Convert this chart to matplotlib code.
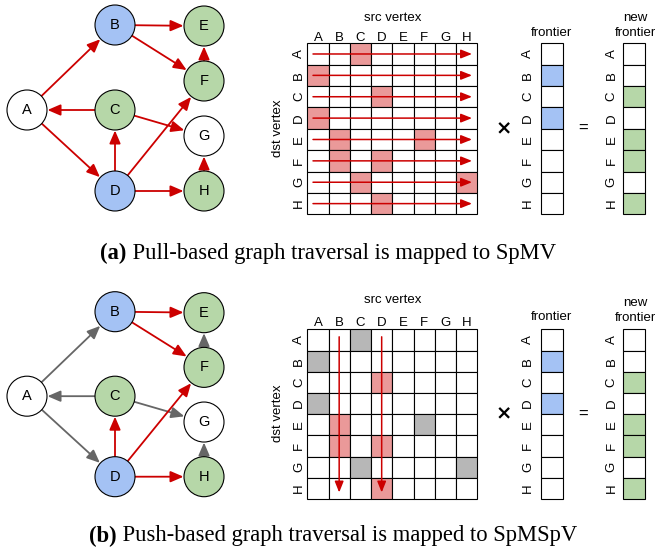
import matplotlib
matplotlib.use("Agg")
import matplotlib.pyplot as plt
from matplotlib.patches import Circle, Rectangle, FancyArrowPatch
import numpy as np

# ---------------- data ----------------
vertices = ["A", "B", "C", "D", "E", "F", "G", "H"]
edges = [("A", "B"), ("C", "A"), ("A", "D"), ("B", "E"), ("B", "F"), ("F", "E"),
         ("C", "G"), ("D", "C"), ("D", "F"), ("D", "H"), ("H", "G")]
frontier = ["B", "D"]
new_frontier = ["C", "E", "F", "H"]
captions = [("(a)", " Pull-based graph traversal is mapped to SpMV"),
            ("(b)", " Push-based graph traversal is mapped to SpMSpV")]

# ---------------- style ----------------
BLUE = "#a4c2f4"
GREEN = "#b6d7a8"
RED = "#cc0000"
GREY = "#666666"
PINK = "#ea9999"
LGREY = "#b7b7b7"
SANS = "Liberation Sans"
SERIF = "Liberation Serif"

fig = plt.figure(figsize=(6.55, 5.52), dpi=100)
ax = fig.add_axes([0, 0, 1, 1])
ax.set_xlim(0, 655)
ax.set_ylim(552, 0)
ax.axis("off")

# node layout (relative to panel top)
node_xy = {"A": (27, 110), "B": (115, 25), "C": (115, 110), "D": (115, 191),
           "E": (204, 26), "F": (204, 81), "G": (204, 136), "H": (204, 191)}
R = 20


def node_color(v):
    if v in frontier:
        return BLUE
    if v in new_frontier:
        return GREEN
    return "white"


def draw_graph(y0, yscale, push):
    pos = {v: (x, y0 + y * yscale) for v, (x, y) in node_xy.items()}
    for s, d in edges:
        (x1, y1), (x2, y2) = pos[s], pos[d]
        v = np.array([x2 - x1, y2 - y1], float)
        u = v / np.hypot(*v)
        p1 = (x1 + u[0] * R, y1 + u[1] * R)
        p2 = (x2 - u[0] * (R + 0.5), y2 - u[1] * (R + 0.5))
        col = RED if (not push or s in frontier) else GREY
        ax.add_patch(FancyArrowPatch(p1, p2, arrowstyle="-|>,head_length=0.65,head_width=0.28",
                                     mutation_scale=12, color=col, lw=1.3,
                                     shrinkA=0, shrinkB=0, zorder=2))
    for v in vertices:
        x, y = pos[v]
        ax.add_patch(Circle((x, y), R, facecolor=node_color(v), edgecolor="black",
                            lw=0.8, zorder=3))
        ax.text(x, y, v, ha="center", va="center", fontsize=10.5, family=SANS, zorder=4)


def draw_matrix(top, bottom, label_y, title_y, dst_y, push):
    left, right = 307.3, 477.3
    n = len(vertices)
    cw = (right - left) / n
    ch = (bottom - top) / n
    for r, dv in enumerate(vertices):
        for c, sv in enumerate(vertices):
            fc = "white"
            if (sv, dv) in edges:
                fc = PINK if (not push or sv in frontier) else LGREY
            ax.add_patch(Rectangle((left + c * cw, top + r * ch), cw, ch,
                                   facecolor=fc, edgecolor="black", lw=0.8, zorder=1))
    for i, v in enumerate(vertices):
        ax.text(left + (i + 0.5) * cw, label_y, v, ha="center", va="center",
                fontsize=9.5, family=SANS)
        ax.text(299, top + (i + 0.5) * ch, v, ha="center", va="center",
                fontsize=9.5, family=SANS, rotation=90)
    ax.text((left + right) / 2, title_y, "src vertex", ha="center", va="center",
            fontsize=9.5, family=SANS)
    ax.text(278, dst_y, "dst vertex", ha="center", va="center", fontsize=9.5,
            family=SANS, rotation=90)
    if not push:
        for r in range(n):
            yc = top + (r + 0.5) * ch
            ax.add_patch(FancyArrowPatch((313, yc), (472, yc),
                                         arrowstyle="-|>,head_length=0.55,head_width=0.22",
                                         mutation_scale=12, color=RED, lw=1.1,
                                         shrinkA=0, shrinkB=0, zorder=5))
    else:
        for v in frontier:
            c = vertices.index(v)
            xc = left + (c + 0.5) * cw
            ax.add_patch(FancyArrowPatch((xc, top + 7.5), (xc, bottom - 6.5),
                                         arrowstyle="-|>,head_length=0.55,head_width=0.22",
                                         mutation_scale=12, color=RED, lw=1.1,
                                         shrinkA=0, shrinkB=0, zorder=5))


def draw_vector(left, top, bottom, members, fill, label_x):
    n = len(vertices)
    w = 22
    ch = (bottom - top) / n
    for i, v in enumerate(vertices):
        fc = fill if v in members else "white"
        ax.add_patch(Rectangle((left, top + i * ch), w, ch, facecolor=fc,
                               edgecolor="black", lw=0.8, zorder=1))
        ax.text(label_x, top + (i + 0.5) * ch, v, ha="center", va="center",
                fontsize=9.5, family=SANS, rotation=90)


def draw_panel(y0, yscale, top, bottom, label_y, title_y, dst_y, front_y, new_y, push):
    draw_graph(y0, yscale, push)
    draw_matrix(top, bottom, label_y, title_y, dst_y, push)
    draw_vector(540.7, top, bottom, frontier, BLUE, 528)
    draw_vector(623.3, top, bottom, new_frontier, GREEN, 611.7)
    mid = (top + bottom) / 2
    ax.text(504, mid, "×", ha="center", va="center", fontsize=14, fontweight="bold",
            family="DejaVu Sans")
    ax.text(583, mid, "=", ha="center", va="center", fontsize=12, family=SANS)
    ax.text(551.7, front_y, "frontier", ha="center", va="center", fontsize=9.5, family=SANS)
    ax.text(635, new_y, "new", ha="center", va="center", fontsize=9.5, family=SANS)
    ax.text(635, new_y + 15, "frontier", ha="center", va="center", fontsize=9.5,
            family=SANS)


# panel (a)
draw_panel(0, 1.0, 43.3, 214.3, 38.3, 18.3, 128, 33, 18, False)
# panel (b)
sb = (476.7 - 311.7) / (191 - 25)
draw_panel(311.7 - 25 * sb, sb, 329.3, 499, 323.3, 300, 413, 317.3, 303, True)


def caption(y, bold, rest, cx):
    t = ax.text(0, y, bold, ha="left", va="center", fontsize=16.3, family=SERIF,
                fontweight="bold")
    fig.canvas.draw()
    rnd = fig.canvas.get_renderer()
    bb1 = t.get_window_extent(rnd)
    t2 = ax.text(0, y, rest, ha="left", va="center", fontsize=16.3, family=SERIF)
    bb2 = t2.get_window_extent(rnd)
    total = bb1.width + bb2.width
    x0 = cx - total / 2
    t.set_x(x0)
    t2.set_x(x0 + bb1.width)


caption(253, *captions[0], 328)
caption(536, *captions[1], 333)

fig.savefig("out.png", dpi=100)
